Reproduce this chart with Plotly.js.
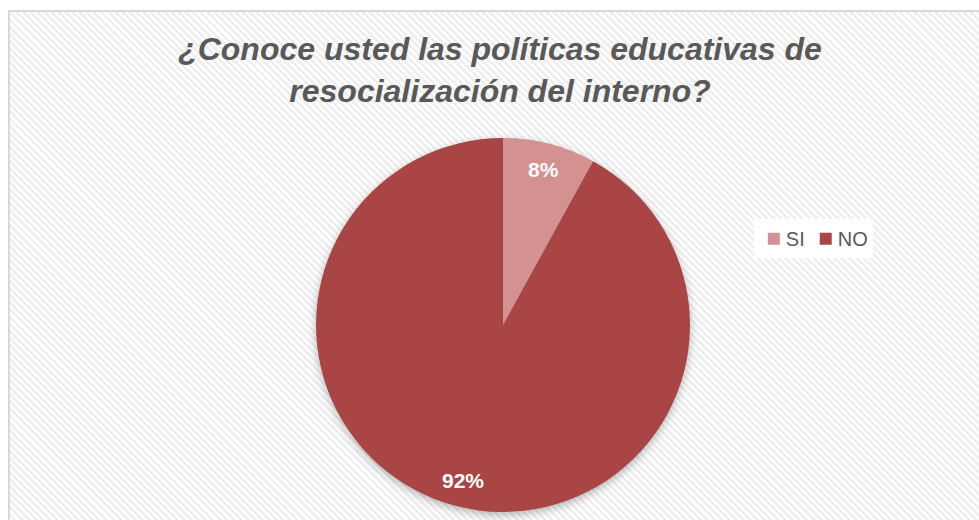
<!DOCTYPE html>
<html>
<head>
<meta charset="utf-8">
<script src="https://cdn.plot.ly/plotly-3.0.1.min.js"></script>
<style>
  html, body { margin:0; padding:0; background:#ffffff; width:979px; height:520px; overflow:hidden; }
  #frame { position:absolute; left:8px; top:10px; width:1000px; height:600px;
    border:2px solid #d9d9d9;
    background: repeating-linear-gradient(45deg, #ffffff 0px, #ffffff 2.2px, #efefef 2.2px, #efefef 5px); }
  #chart { position:absolute; left:0; top:0; width:979px; height:520px; }
  #chart .pielayer { filter: drop-shadow(0px 3px 4px rgba(0,0,0,0.28)); }
</style>
</head>
<body>
<div id="frame"></div>
<div id="chart"></div>
<script>
// ---- data ----
const categories = ["SI", "NO"];
const values = [8, 92];
const sliceColors = ["#d39191", "#a94645"];
const titleText = "¿Conoce usted las políticas educativas de<br>resocialización del interno?";

// ---- geometry of pie domain ----
const W = 979, H = 520;
const dom = { x: [0.3228, 0.7048], y: [0.0154, 0.7346] };

// labels placed along each slice's bisector (computed from values)
const total = values.reduce((a, b) => a + b, 0);
const cxp = (dom.x[0] + dom.x[1]) / 2, cyp = (dom.y[0] + dom.y[1]) / 2;
const rpx = Math.min((dom.x[1] - dom.x[0]) * W, (dom.y[1] - dom.y[0]) * H) / 2;
let cum = 0;
const annotations = values.map((v) => {
  const mid = (cum + v / 2) / total * 2 * Math.PI; // clockwise from top
  cum += v;
  const rr = 0.86 * rpx;
  return {
    x: cxp + Math.sin(mid) * rr / W,
    y: cyp + Math.cos(mid) * rr / H,
    xref: "paper", yref: "paper",
    xanchor: "center", yanchor: "middle",
    text: "<b>" + Math.round(v / total * 100) + "%</b>",
    showarrow: false,
    font: { family: "Liberation Sans, Arial, sans-serif", size: 21, color: "#ffffff" }
  };
});

const trace = {
  type: "pie",
  labels: categories,
  values: values,
  sort: false,
  direction: "clockwise",
  rotation: 0,
  marker: { colors: sliceColors, line: { color: "rgba(0,0,0,0)", width: 0 } },
  textinfo: "none",
  hoverinfo: "label+percent",
  domain: dom
};

const layout = {
  width: W, height: H,
  margin: { l: 0, r: 0, t: 0, b: 0 },
  paper_bgcolor: "rgba(0,0,0,0)",
  plot_bgcolor: "rgba(0,0,0,0)",
  title: {
    text: titleText,
    x: 500 / W, xref: "container", xanchor: "center",
    y: 1 - 60 / H, yref: "container", yanchor: "top",
    font: { family: "Liberation Sans, Arial, sans-serif", size: 32, color: "#595959", weight: "bold", style: "italic" }
  },
  showlegend: true,
  legend: {
    orientation: "h",
    x: 0.770, y: 0.5785, xanchor: "left", yanchor: "top",
    bgcolor: "#ffffff",
    font: { family: "Liberation Sans, Arial, sans-serif", size: 20, color: "#595959" },
    itemclick: false, itemdoubleclick: false,
    traceorder: "normal"
  },
  annotations: annotations
};

Plotly.newPlot("chart", [trace], layout, { displayModeBar: false, staticPlot: true }).then(() => {
  // tighten legend spacing (symbol-to-text gap and item pitch)
  const textShift = 8, pitchShift = 12;
  const items = document.querySelectorAll("#chart .legend .traces");
  items.forEach((g, i) => {
    const t = g.querySelector("text.legendtext");
    if (t) t.setAttribute("x", (+t.getAttribute("x") || 40) - textShift);
    if (i > 0) {
      const tr = g.getAttribute("transform") || "";
      const m = tr.match(/translate\(\s*([-\d.]+)[ ,]+([-\d.]+)\s*\)/);
      if (m) g.setAttribute("transform", "translate(" + (+m[1] - pitchShift * i) + "," + m[2] + ")");
    }
  });
  const bg = document.querySelector("#chart .legend rect.bg");
  if (bg) bg.setAttribute("width", (+bg.getAttribute("width")) - pitchShift * (items.length - 1) - textShift);
});
</script>
</body>
</html>
